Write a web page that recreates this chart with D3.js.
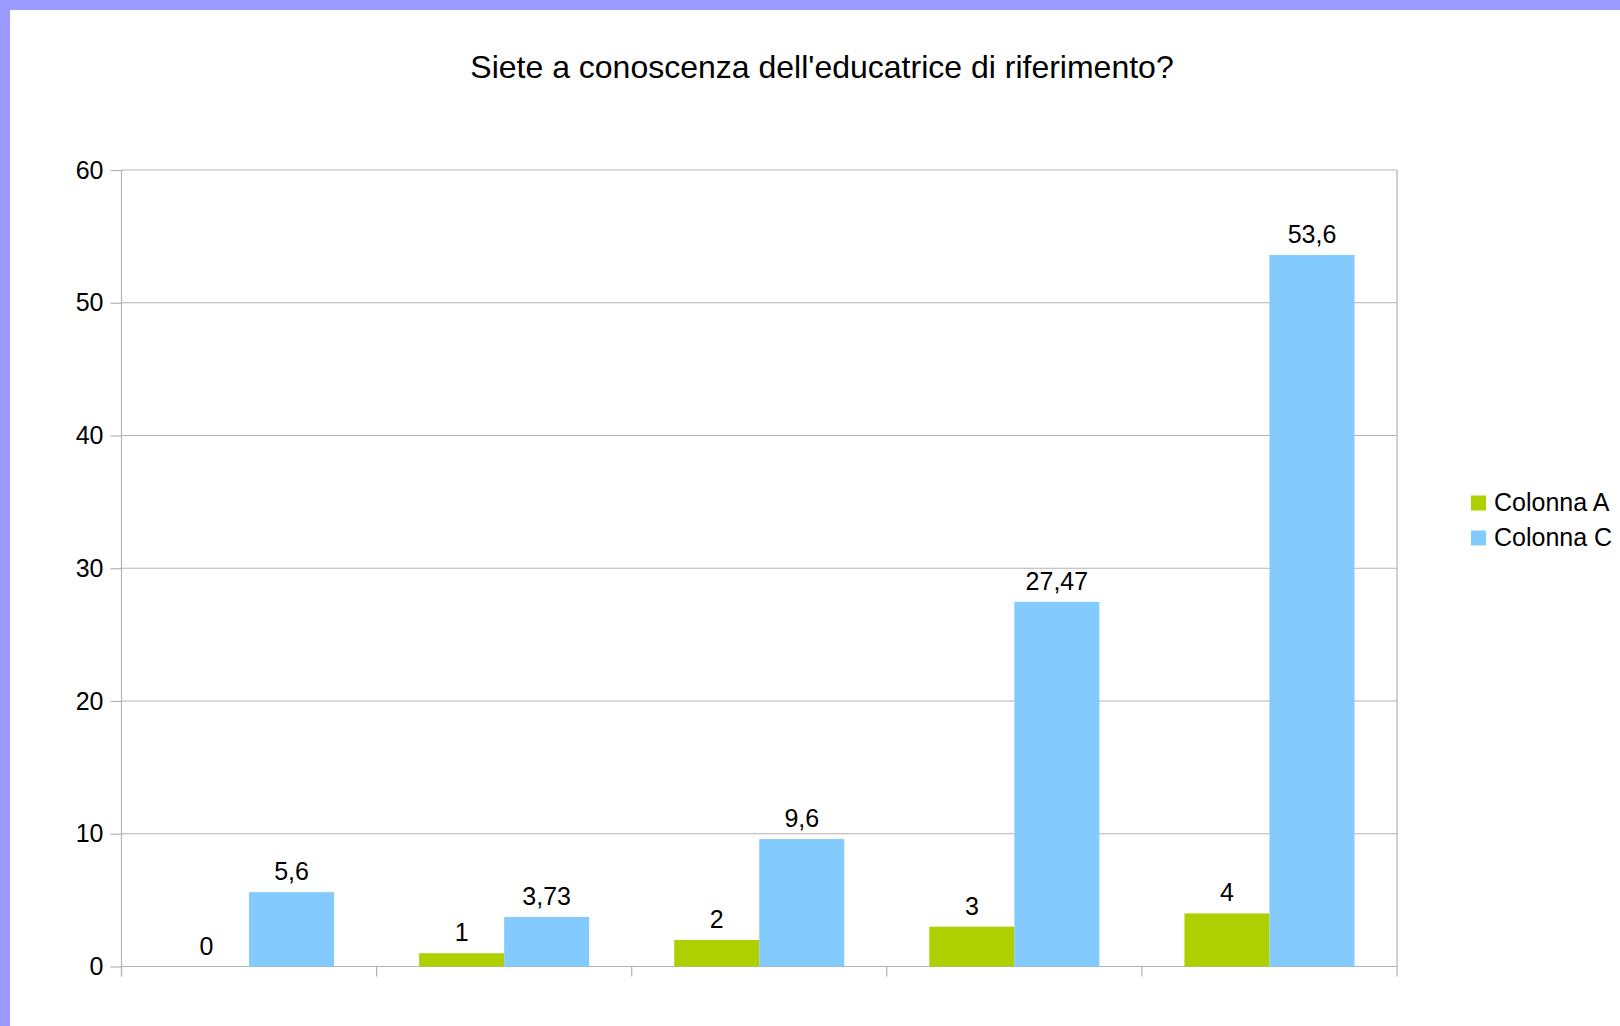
<!DOCTYPE html>
<html>
<head>
<meta charset="utf-8">
<script src="https://cdn.jsdelivr.net/npm/d3@7"></script>
<style>
  html, body { margin: 0; padding: 0; background: #fff; }
  svg { display: block; }
  text { font-family: "Liberation Sans", Arial, sans-serif; fill: #000; }
</style>
</head>
<body>
<svg id="chart" width="1620" height="1026"></svg>
<script>
const title = "Siete a conoscenza dell'educatrice di riferimento?";
const categories = ["1", "2", "3", "4", "5"];
const seriesNames = ["Colonna A", "Colonna C"];
const colonnaA = [0, 1, 2, 3, 4];
const colonnaC = [5.6, 3.73, 9.6, 27.47, 53.6];
const yTicks = [0, 10, 20, 30, 40, 50, 60];
const colors = ["#aecf00", "#83caff"];

const seriesValues = [colonnaA, colonnaC];
const W = 1620, H = 1026;
const svg = d3.select("#chart");

// frame background / border
svg.append("rect").attr("x", 0).attr("y", 0).attr("width", W).attr("height", H).attr("fill", "#9999ff");
svg.append("rect").attr("x", 10).attr("y", 10).attr("width", W - 10).attr("height", H - 10).attr("fill", "#ffffff");

const plot = { left: 121.5, right: 1397, top: 170, bottom: 966.5 };

const x = d3.scaleBand().domain(categories).range([plot.left, plot.right]).padding(0);
const xs = d3.scaleBand().domain(seriesNames).range([0, x.bandwidth()]).paddingInner(0).paddingOuter(0.5);
const y = d3.scaleLinear().domain([0, 60]).range([plot.bottom, plot.top]);

const fmtLabel = v => (Math.round(v * 100) / 100).toString().replace(".", ",");

const gridColor = "#b3b3b3";
const fs = 25;

// gridlines
svg.append("g").selectAll("line").data(yTicks).join("line")
  .attr("x1", plot.left).attr("x2", plot.right)
  .attr("y1", d => y(d)).attr("y2", d => y(d))
  .attr("stroke", gridColor).attr("stroke-width", 1.2);

// right frame
svg.append("line").attr("x1", plot.right).attr("x2", plot.right)
  .attr("y1", plot.top).attr("y2", plot.bottom)
  .attr("stroke", gridColor).attr("stroke-width", 1.2);

// y axis
const yAxis = d3.axisLeft(y).tickValues(yTicks).tickSize(11).tickPadding(7).tickFormat(d => d);
const gy = svg.append("g").attr("transform", `translate(${plot.left},0)`).call(yAxis);
gy.select(".domain").remove();
gy.selectAll(".tick line").attr("stroke", gridColor).attr("stroke-width", 1.2);
gy.selectAll(".tick text").attr("font-size", fs).attr("font-family", "Liberation Sans, Arial, sans-serif").attr("fill", "#000");
svg.append("line").attr("x1", plot.left).attr("x2", plot.left)
  .attr("y1", plot.top).attr("y2", plot.bottom + 10)
  .attr("stroke", gridColor).attr("stroke-width", 1.2);

// x axis (boundary ticks, no labels)
const boundaries = categories.map(c => x(c)).concat([plot.right]);
svg.append("g").selectAll("line").data(boundaries).join("line")
  .attr("x1", d => d).attr("x2", d => d)
  .attr("y1", plot.bottom).attr("y2", plot.bottom + 10)
  .attr("stroke", gridColor).attr("stroke-width", 1.2);
svg.append("line").attr("x1", plot.left).attr("x2", plot.right)
  .attr("y1", plot.bottom).attr("y2", plot.bottom)
  .attr("stroke", gridColor).attr("stroke-width", 1.2);

// bars
seriesNames.forEach((s, si) => {
  const vals = seriesValues[si];
  const g = svg.append("g");
  g.selectAll("rect").data(categories).join("rect")
    .attr("x", (c) => x(c) + xs(s))
    .attr("width", xs.bandwidth())
    .attr("y", (c, i) => y(vals[i]))
    .attr("height", (c, i) => plot.bottom - y(vals[i]))
    .attr("fill", colors[si]);
  g.selectAll("text").data(categories).join("text")
    .attr("x", c => x(c) + xs(s) + xs.bandwidth() / 2)
    .attr("y", (c, i) => y(vals[i]) - 12)
    .attr("text-anchor", "middle")
    .attr("font-size", fs)
    .text((c, i) => fmtLabel(vals[i]));
});

// title
svg.append("text").attr("x", 822).attr("y", 78).attr("text-anchor", "middle")
  .attr("font-size", 32).text(title);

// legend
const leg = svg.append("g").attr("transform", "translate(1471,495.5)");
seriesNames.forEach((s, i) => {
  leg.append("rect").attr("x", 0).attr("y", i * 35).attr("width", 15).attr("height", 15).attr("fill", colors[i]);
  leg.append("text").attr("x", 23).attr("y", i * 35 + 15).attr("font-size", fs).text(s);
});
</script>
</body>
</html>
